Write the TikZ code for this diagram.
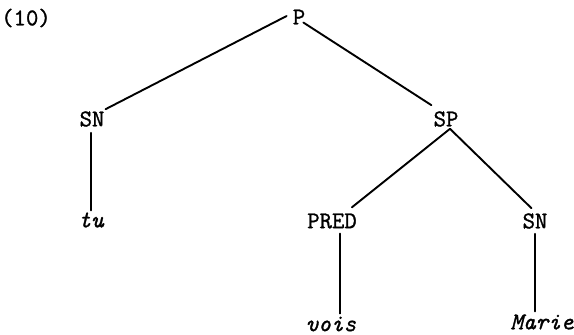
\documentclass[tikz,border=0pt]{standalone}
\usepackage{fontspec}
\newfontfamily\tw[FakeBold=1.2]{Latin Modern Mono}
\begin{document}
\begin{tikzpicture}[x=1pt,y=-1pt,
  cat/.style={font=\fontsize{24}{27}\selectfont\tw, inner sep=0pt},
  word/.style={font=\fontsize{24}{27}\selectfont\tw\itshape, inner sep=0pt},
  edge/.style={line width=1.9pt, line cap=round}]
\useasboundingbox (0,0) rectangle (574,335);
\node[cat] (ex) at (26,18) {(10)};
\node[cat] (P) at (299,17) {P};
\node[cat] (SN) at (92,119) {SN};
\node[cat] (SP) at (446,119) {SP};
\node[word] (tu) at (91,220) {tu};
\node[cat] (PRED) at (332,221) {PRED};
\node[cat] (SNb) at (535,221) {SN};
\node[word] (vois) at (331,324) {vois};
\node[word] (Marie) at (542,322) {Marie};
\draw[edge] ([shift={(-6,-1)}]P.west) -- ([shift={(1,-2)}]SN.north east);
\draw[edge] ([shift={(-2,-2)}]P.south east) -- ([shift={(-2,-6)}]SP.north west);
\draw[edge] ([shift={(-1,6)}]SN.south) -- ([shift={(0,-2)}]tu.north);
\draw[edge] ([shift={(4,2)}]SP.south) -- ([shift={(-5,-6)}]PRED.north east);
\draw[edge] ([shift={(4,2)}]SP.south) -- ([shift={(9,-5)}]SNb.north west);
\draw[edge] ([shift={(8,5)}]PRED.south) -- ([shift={(9,-3)}]vois.north);
\draw[edge] ([shift={(0,5)}]SNb.south) -- ([shift={(-7,-3)}]Marie.north);
\end{tikzpicture}
\end{document}
